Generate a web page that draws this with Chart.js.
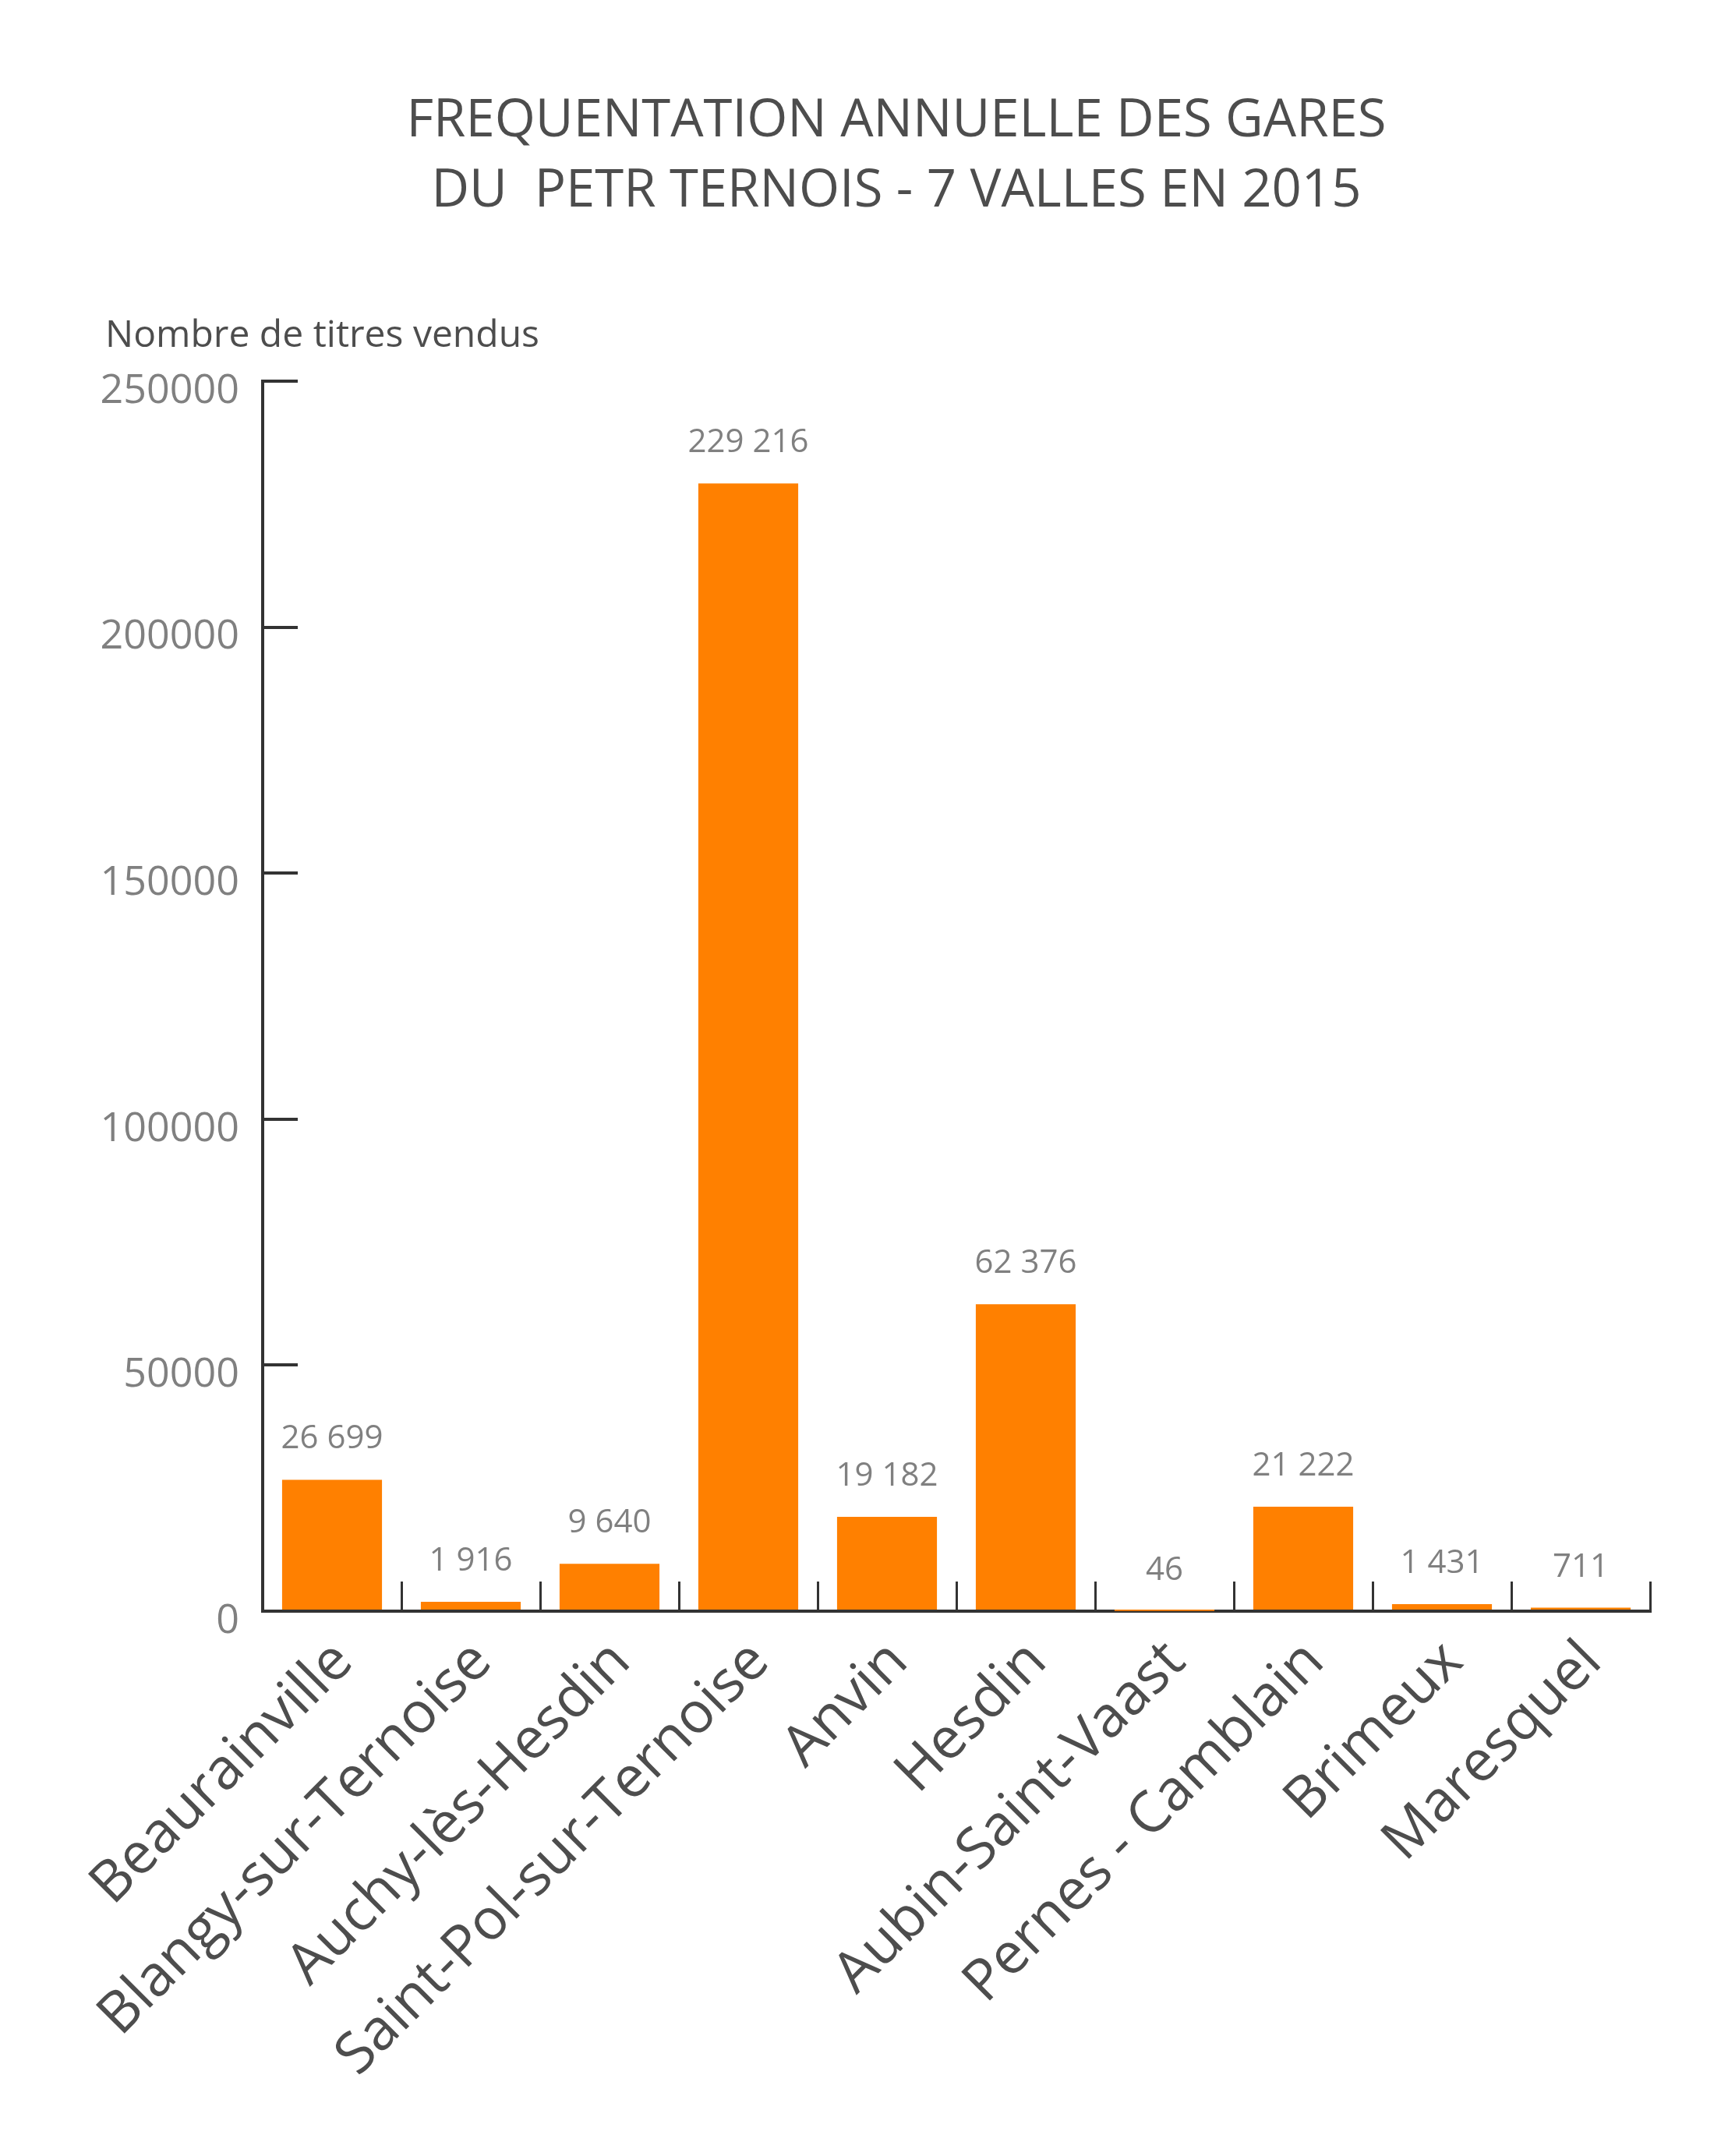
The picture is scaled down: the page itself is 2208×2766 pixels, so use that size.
<!DOCTYPE html>
<html>
<head>
<meta charset="utf-8">
<script src="https://cdn.jsdelivr.net/npm/chart.js@4.4.1/dist/chart.umd.min.js"></script>
<style>
  html, body { margin: 0; padding: 0; background: #ffffff; }
  canvas { display: block; }
</style>
</head>
<body>
<canvas id="grafico" width="2208" height="2766"></canvas>
<script>
// Gares et titres vendus en 2015
const gares = [
    'Beaurainville', 'Blangy-sur-Ternoise', 'Auchy-lès-Hesdin', 'Saint-Pol-sur-Ternoise', 'Anvin',
    'Hesdin', 'Aubin-Saint-Vaast', 'Pernes - Camblain', 'Brimeux', 'Maresquel'
];
const titresVendus = [26699, 1916, 9640, 229216, 19182, 62376, 46, 21222, 1431, 711];

// Graduations de l'axe vertical
const graduationsY = [0, 50000, 100000, 150000, 200000, 250000];

const titre = ['FREQUENTATION ANNUELLE DES GARES', 'DU  PETR TERNOIS - 7 VALLES EN 2015'];
const legendeAxeY = 'Nombre de titres vendus';

const police = '"Open Sans", "Noto Sans", sans-serif';

// 26699 -> "26 699"
function formatNombre(n) {
    return String(n).replace(/\B(?=(\d{3})+(?!\d))/g, ' ');
}

// Valeurs au-dessus des barres
const etiquettesValeurs = {
    id: 'etiquettesValeurs',
    afterDatasetsDraw(chart) {
        const ctx = chart.ctx;
        const meta = chart.getDatasetMeta(0);
        ctx.save();
        ctx.font = '42px ' + police;
        ctx.fillStyle = '#808080';
        ctx.textAlign = 'center';
        ctx.textBaseline = 'alphabetic';
        meta.data.forEach((barre, i) => {
            ctx.fillText(formatNombre(titresVendus[i]), barre.x, barre.y - 40);
        });
        ctx.restore();
    }
};

// Titre (décalé vers la droite comme l'original) et légende de l'axe vertical
const textesHaut = {
    id: 'textesHaut',
    afterDraw(chart) {
        const ctx = chart.ctx;
        ctx.save();
        ctx.fillStyle = '#4d4d4d';
        ctx.textBaseline = 'alphabetic';
        ctx.font = '67px ' + police;
        ctx.textAlign = 'center';
        ctx.fillText(titre[0], 1150, 175);
        ctx.fillText(titre[1], 1150, 265);
        ctx.font = '48px ' + police;
        ctx.textAlign = 'left';
        ctx.textBaseline = 'middle';
        ctx.fillText(legendeAxeY, 135, 431);
        ctx.restore();
    }
};

let chart;
function initGrafico() {
    const ctx = document.getElementById('grafico').getContext('2d');
    chart = new Chart(ctx, {
        type: 'bar',
        data: {
            labels: gares,
            datasets: [{
                data: titresVendus,
                backgroundColor: '#ff8000',
                borderWidth: 0
            }]
        },
        options: {
            responsive: false,
            animation: false,
            devicePixelRatio: 1,
            layout: { padding: { left: 90, right: 91, top: 489, bottom: 0 } },
            plugins: {
                legend: { display: false },
                tooltip: { enabled: false },
                title: { display: false }
            },
            scales: {
                x: {
                    grid: {
                        display: true,
                        drawOnChartArea: false,
                        drawTicks: true,
                        tickLength: -38,
                        color: '#333333',
                        lineWidth: 3
                    },
                    border: { display: true, color: '#333333', width: 4 },
                    ticks: {
                        color: '#4d4d4d',
                        font: { family: police, size: 73 },
                        minRotation: 45,
                        maxRotation: 45,
                        autoSkip: false,
                        padding: 60,
                        labelOffset: 15
                    },
                    afterFit(scale) { scale.height = 699; }
                },
                y: {
                    min: 0,
                    max: 250000,
                    afterBuildTicks(scale) {
                        scale.ticks = graduationsY.map(v => ({ value: v }));
                    },
                    grid: {
                        display: true,
                        drawOnChartArea: false,
                        drawTicks: true,
                        tickLength: -45,
                        color: '#333333',
                        lineWidth: 4
                    },
                    border: { display: true, color: '#333333', width: 4 },
                    ticks: {
                        color: '#808080',
                        font: { family: police, size: 52 },
                        padding: 75,
                        labelOffset: 13,
                        callback: v => String(v)
                    },
                    afterFit(scale) { scale.width = 247; }
                }
            }
        },
        plugins: [etiquettesValeurs, textesHaut]
    });
}

window.onload = function() {
    initGrafico();
};
</script>
</body>
</html>
